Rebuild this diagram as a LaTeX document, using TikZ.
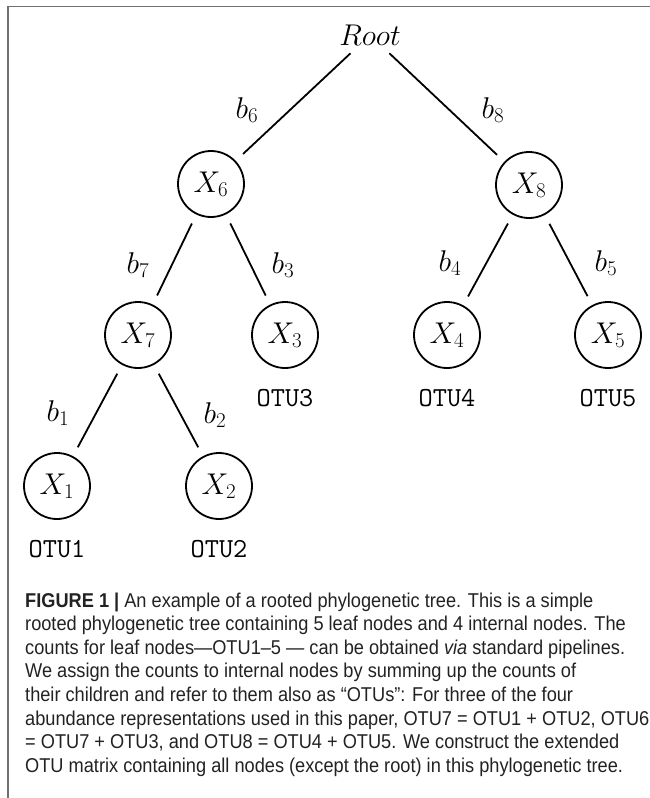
\RequirePackage{fix-cm}
\documentclass[tikz,border=0pt]{standalone}
\usepackage{fontspec}
\newfontfamily\capfont[FakeStretch=0.91]{Liberation Sans}
\newcommand\treemathsize{\fontsize{30}{36}\selectfont}
\newcommand\otusize{\fontsize{27.5}{32}\selectfont}
\definecolor{framegray}{HTML}{707070}
\definecolor{captext}{HTML}{222222}
\begin{document}
\begin{tikzpicture}[x=1pt,y=-1pt,
  treenode/.style={circle, draw, line width=1.8pt, minimum size=66pt,
    inner sep=0pt, font=\treemathsize},
  rootnode/.style={inner sep=1.0pt, font=\treemathsize},
  branchlabel/.style={inner sep=0pt, font=\treemathsize},
  otulabel/.style={inner sep=0pt, font=\otusize\ttfamily},
  branch/.style={line width=1.8pt, shorten <=10pt, shorten >=10pt},
  capline/.style={anchor=base west, inner sep=0pt, text=captext,
    font=\capfont\fontsize{20}{23.6}\selectfont}]
\useasboundingbox (0,0) rectangle (650,798);

% frame
\draw[framegray, line width=1.6pt] (8,798) -- (8,6.5) -- (650,6.5);

% tree nodes
\node[rootnode] (root) at (370,35) {$Root$};
\node[treenode] (x6) at (211,184) {$X_6$};
\node[treenode] (x8) at (529,185) {$X_8$};
\node[treenode] (x7) at (138,335) {$X_7$};
\node[treenode] (x3) at (285,335) {$X_3$};
\node[treenode] (x4) at (447,335) {$X_4$};
\node[treenode] (x5) at (608,335) {$X_5$};
\node[treenode] (x1) at (57,486) {$X_1$};
\node[treenode] (x2) at (219,486) {$X_2$};

% branches
\draw[branch] (root) -- (x6);
\draw[branch] (root) -- (x8);
\draw[branch] (x6) -- (x7);
\draw[branch] (x6) -- (x3);
\draw[branch] (x8) -- (x4);
\draw[branch] (x8) -- (x5);
\draw[branch] (x7) -- (x1);
\draw[branch] (x7) -- (x2);

% branch lengths
\node[branchlabel] (lb6) at (247,110) {$b_6$};
\node[branchlabel] (lb8) at (493,110) {$b_8$};
\node[branchlabel] (lb7) at (138,265) {$b_7$};
\node[branchlabel] (lb3) at (283,265) {$b_3$};
\node[branchlabel] (lb4) at (450,263) {$b_4$};
\node[branchlabel] (lb5) at (606,263) {$b_5$};
\node[branchlabel] (lb1) at (58,413) {$b_1$};
\node[branchlabel] (lb2) at (215,415) {$b_2$};

% leaf names
\node[otulabel] (otu3) at (285,398) {OTU3};
\node[otulabel] (otu4) at (447,398) {OTU4};
\node[otulabel] (otu5) at (608,398) {OTU5};
\node[otulabel] (otu1) at (57,549) {OTU1};
\node[otulabel] (otu2) at (219,549) {OTU2};

% caption
\node[capline] (cap1) at (25,607.0) {{\bfseries FIGURE 1 |} An example of a rooted phylogenetic tree. This is a simple};
\node[capline] (cap2) at (25,630.6) {rooted phylogenetic tree containing 5 leaf nodes and 4 internal nodes. The};
\node[capline] (cap3) at (25,654.2) {counts for leaf nodes—OTU1–5 — can be obtained \textit{via} standard pipelines.};
\node[capline] (cap4) at (25,677.8) {We assign the counts to internal nodes by summing up the counts of};
\node[capline] (cap5) at (25,701.4) {their children and refer to them also as “OTUs”: For three of the four};
\node[capline] (cap6) at (25,725.0) {abundance representations used in this paper, OTU7 = OTU1 + OTU2, OTU6};
\node[capline] (cap7) at (25,748.6) {= OTU7 + OTU3, and OTU8 = OTU4 + OTU5. We construct the extended};
\node[capline] (cap8) at (25,772.2) {OTU matrix containing all nodes (except the root) in this phylogenetic tree.};
\end{tikzpicture}
\end{document}
